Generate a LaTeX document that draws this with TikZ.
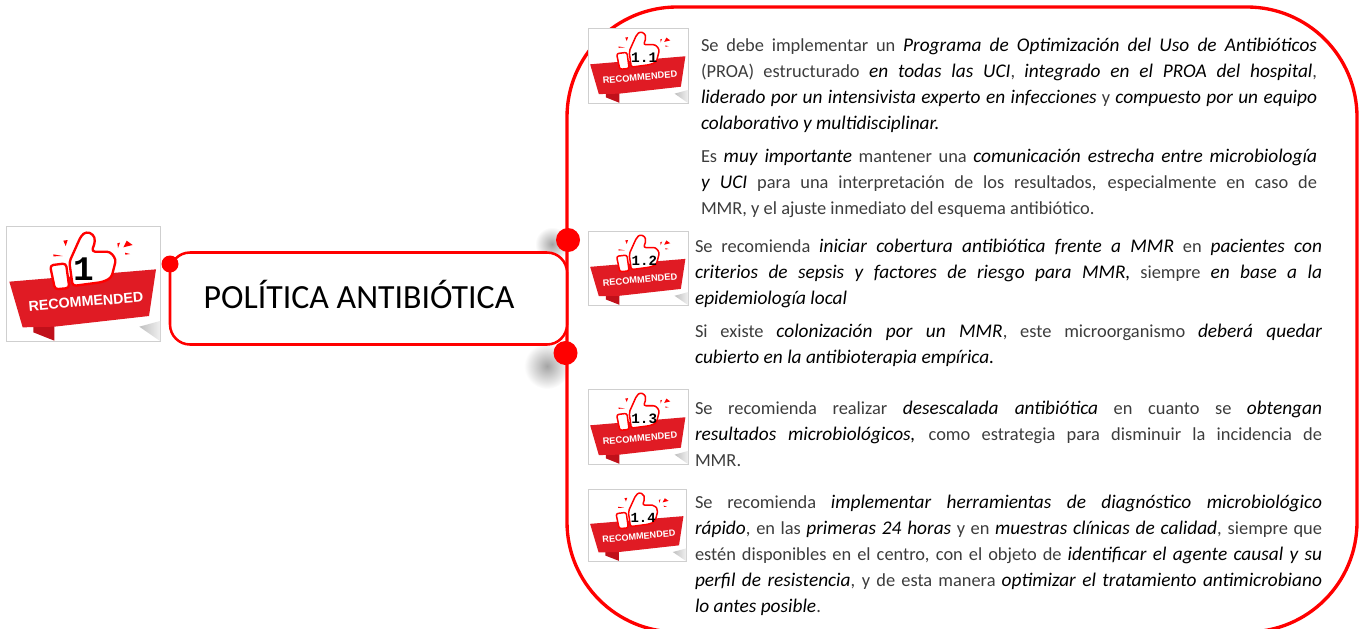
\documentclass[tikz,border=0pt]{standalone}
\usepackage{fontspec}
\usepackage{graphicx}
\setmainfont{Carlito}
\newfontfamily\badgefont{Liberation Sans}
\newfontfamily\numfont{Liberation Mono}
\definecolor{bodytext}{HTML}{3C3C3C}
\definecolor{ribbonred}{HTML}{E01B24}
\definecolor{folddark}{HTML}{C0101A}
\definecolor{boxgrey}{HTML}{CFCFCF}
\definecolor{shadowgrey}{HTML}{A4A4A4}
\newcommand{\hl}[1]{{\fontsize{14.5pt}{19.5pt}\selectfont\itshape\color{black}#1}}
\tikzset{
  x=0.75pt,y=-0.75pt,
  para/.style={anchor=north west,inner sep=0pt,outer sep=0pt,align=justify,text=bodytext,
    font=\fontsize{13.8pt}{19.5pt}\selectfont},
  badgebox/.style={anchor=north west,inner sep=0pt,outer sep=0pt,draw=boxgrey,line width=0.5pt,fill=white},
  reddot/.style={circle,fill=red,inner sep=0pt},
  mainline/.style={draw=red,line width=2.5pt,outer sep=0pt},
  titlebox/.style={draw=red,line width=1.9pt,fill=white,rounded corners=15pt,outer sep=0pt},
  thumbline/.style={draw=red,fill=white,line join=round},
  softshadow/.style={inner color=shadowgrey,outer color=white,draw=none},
}
% #1 name, #2 x, #3 y, #4 width, #5 height, #6 label, #7 label height, #8 #9 label centre (in units)
\newcommand{\badge}[9]{%
  \pgfmathsetlengthmacro{\bnumh}{#7*#5*0.75pt/345}%
  \pgfmathsetlengthmacro{\brecw}{#4*0.75pt*0.747}%
  \node[badgebox,minimum width=#4*0.75pt,minimum height=#5*0.75pt] (#1) at (#2,#3) {};
  \begin{scope}[shift={(#2,#3)},x=#4*0.75pt/462,y=-#5*0.75pt/345]
    \shade[left color=black!25,right color=black!6] (400,302) -- (462,285) -- (462,345) -- cycle;
    \fill[folddark] (82,300) -- (145,296) -- (145,344) -- (82,319) -- cycle;
    \fill[ribbonred] (10,167) -- (450,130) -- (429,270) -- (145,302) -- (50,304) -- cycle;
    \fill[red] (172,44) -- (185,42) -- (179,60) -- cycle;
    \fill[red] (142,85) -- (170,90) -- (142,91) -- cycle;
    \fill[red] (334,52) -- (342,50) -- (336,66) -- cycle;
    \fill[red] (362,44) -- (380,57) -- (352,64) -- cycle;
    \fill[red] (357,80) -- (372,84) -- (358,86) -- cycle;
    \draw[thumbline,line width=#4*0.75pt/462*7,rounded corners=#4*0.75pt/462*10]
      (132,118) -- (180,112) -- (190,186) -- (147,190) -- cycle;
    \draw[thumbline,line width=#4*0.75pt/462*7,rounded corners=#4*0.75pt/462*10]
      (190,108) -- (225,30) -- (240,17) -- (262,25) -- (268,45) -- (257,77)
      -- (312,77) -- (330,100) -- (324,125) -- (316,155) -- (290,168) -- (200,180) -- cycle;
    \node[inner sep=0pt,text=black] (#1num) at (#8,#9) {\resizebox{!}{\bnumh}{\numfont\bfseries #6}};
    \node[inner sep=0pt,text=white,rotate=5] (#1rec) at (240,227)
      {\resizebox{\brecw}{!}{\badgefont\bfseries RECOMMENDED}};
  \end{scope}
}
\begin{document}
\begin{tikzpicture}
\useasboundingbox (0,0) rectangle (1363,628);
\begin{scope}
\clip (0,0) rectangle (1363,628);
% soft shadows
\shade[softshadow] (552,244) circle (17);
\shade[softshadow] (547,366) circle (23);
% big rounded panel
\node[mainline,rounded corners=82.5pt,inner sep=0pt,minimum width=790*0.75pt,minimum height=625*0.75pt,anchor=north west,rectangle] (panel) at (567,7) {};
% title box
\node[titlebox,rectangle,inner sep=0pt,minimum width=397*0.75pt,minimum height=92*0.75pt,anchor=north west] (title) at (170,252.5) {};
\node[inner sep=0pt,text=black,font=\fontsize{25.4pt}{30pt}\selectfont] (titletext) at (359,294.5) {POLÍTICA ANTIBIÓTICA};
% badges
\badge{b1}{6}{226}{154}{115}{1}{68}{232}{130}
\badge{b11}{588}{28}{100}{75}{1.1}{44}{260}{138}
\badge{b12}{588}{231}{100}{74}{1.2}{44}{260}{138}
\badge{b13}{588}{389}{100}{75}{1.3}{44}{260}{138}
\badge{b14}{588}{489}{98}{72}{1.4}{44}{260}{138}
% dots
\node[reddot,minimum size=17*0.75pt] (d0) at (170,264) {};
\node[reddot,minimum size=24*0.75pt] (d1) at (568,240) {};
\node[reddot,minimum size=24*0.75pt] (d2) at (565.5,353) {};
% texts
\node[para,text width=462pt] (t11a) at (701,37.7) {\rule{0pt}{10pt}Se debe implementar un \hl{Programa de Optimización del Uso de Antibióticos}\linebreak
(PROA) estructurado \hl{en todas las UCI}, \hl{integrado en el PROA del hospital},\linebreak
\hl{liderado por un intensivista experto en infecciones} y \hl{compuesto por un equipo}\linebreak
\hl{colaborativo y multidisciplinar.}};
\node[para,text width=462pt] (t11b) at (701,148.7) {\rule{0pt}{10pt}Es \hl{muy importante} mantener una \hl{comunicación estrecha entre microbiología}\linebreak
\hl{y UCI} para una interpretación de los resultados, especialmente en caso de\linebreak
MMR, y el ajuste inmediato del esquema antibiótico.};
\node[para,text width=470.25pt] (t12a) at (695,238.7) {\rule{0pt}{10pt}Se recomienda \hl{iniciar cobertura antibiótica frente a MMR} en \hl{pacientes con}\linebreak
\hl{criterios de sepsis y factores de riesgo para MMR,} siempre \hl{en base a la}\linebreak
\hl{epidemiología local}};
\node[para,text width=470.25pt] (t12b) at (695,323.7) {\rule{0pt}{10pt}Si existe \hl{colonización por un MMR}, este microorganismo \hl{deberá quedar}\linebreak
\hl{cubierto en la antibioterapia empírica.}};
\node[para,text width=470.25pt] (t13) at (695,400.7) {\rule{0pt}{10pt}Se recomienda realizar \hl{desescalada antibiótica} en cuanto se \hl{obtengan}\linebreak
\hl{resultados microbiológicos,} como estrategia para disminuir la incidencia de\linebreak
MMR.};
\node[para,text width=470.25pt] (t14) at (695,494.7) {\rule{0pt}{10pt}Se recomienda \hl{implementar herramientas de diagnóstico microbiológico}\linebreak
\hl{rápido}, en las \hl{primeras 24 horas} y en \hl{muestras clínicas de calidad}, siempre que\linebreak
estén disponibles en el centro, con el objeto de \hl{identificar el agente causal y su}\linebreak
\hl{perfil de resistencia}, y de esta manera \hl{optimizar el tratamiento antimicrobiano}\linebreak
\hl{lo antes posible}.};
\end{scope}
\end{tikzpicture}
\end{document}
